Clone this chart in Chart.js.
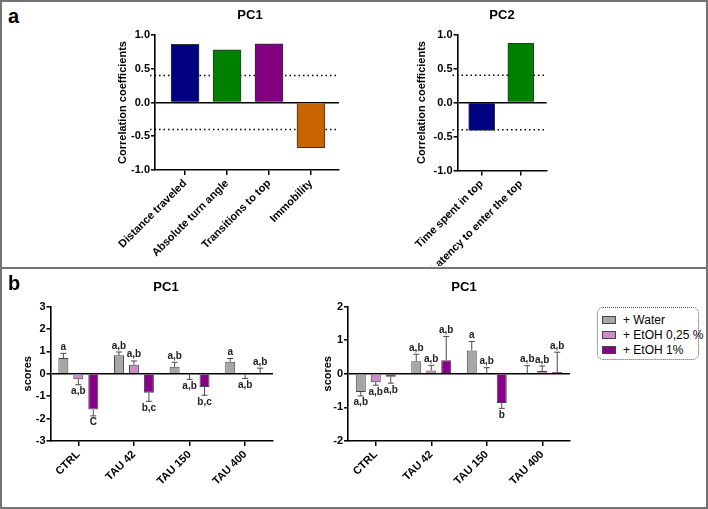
<!DOCTYPE html>
<html><head><meta charset="utf-8">
<script src="https://cdn.jsdelivr.net/npm/chart.js@4.4.1/dist/chart.umd.min.js"></script>
<style>
html,body{margin:0;padding:0;background:#fff;}
#fig{position:relative;width:708px;height:509px;overflow:hidden;font-family:"Liberation Sans",Arial,sans-serif;color:#000;}
.cbox{position:absolute;}
.frame{position:absolute;left:0;top:0;width:708px;height:509px;box-sizing:border-box;border:2px solid #737373;pointer-events:none;}
.sep{position:absolute;left:0;top:267px;width:708px;height:2px;background:#737373;}
.letter{position:absolute;font-weight:bold;font-size:20px;line-height:20px;}
.ttl{position:absolute;font-weight:bold;font-size:13px;line-height:13px;width:80px;text-align:center;}
#legend{position:absolute;left:597px;top:307px;width:102px;height:53px;box-sizing:border-box;border:1px dotted #555;border-radius:6px;}
.lrow{position:absolute;left:4px;height:14px;font-size:12px;line-height:14px;white-space:nowrap;}
.sw{position:absolute;left:0;top:3px;width:14px;height:8px;box-sizing:border-box;border:1px solid #444;}
.lt{position:absolute;left:21px;top:0;}
</style></head>
<body>
<div id="fig">
  <div class="cbox" style="left:100px;top:0;width:250px;height:266px;"><canvas id="a1"></canvas></div>
  <div class="cbox" style="left:400px;top:0;width:160px;height:266px;"><canvas id="a2"></canvas></div>
  <div class="cbox" style="left:5px;top:272px;width:278px;height:234px;"><canvas id="b1"></canvas></div>
  <div class="cbox" style="left:300px;top:272px;width:280px;height:234px;"><canvas id="b2"></canvas></div>
  <div class="letter" style="left:8px;top:6px;">a</div>
  <div class="letter" style="left:8px;top:273px;">b</div>
  <div class="ttl" style="left:210px;top:7.5px;">PC1</div>
  <div class="ttl" style="left:462px;top:7.5px;">PC2</div>
  <div class="ttl" style="left:126px;top:279.5px;">PC1</div>
  <div class="ttl" style="left:424px;top:279.5px;">PC1</div>
  <div id="legend"></div>
  <div class="sep"></div>
  <div class="frame"></div>
</div>
<script>
// ---------- DATA ----------
const pc1LoadCategories = ['Distance traveled', 'Absolute turn angle', 'Transitions to top', 'Immobility'];
const pc1LoadValues = [0.86, 0.78, 0.87, -0.67];
const pc1LoadColors = ['#000080', '#008000', '#800080', '#c86400'];
const pc2LoadCategories = ['Time spent in top', 'Latency to enter the top'];
const pc2LoadValues = [-0.41, 0.87];
const pc2LoadColors = ['#000080', '#008000'];
const loadingThreshold = 0.4;
const loadTicks = [-1.0, -0.5, 0.0, 0.5, 1.0];

const groups = ['CTRL', 'TAU 42', 'TAU 150', 'TAU 400'];
const seriesNames = ['+ Water', '+ EtOH 0,25 %', '+ EtOH 1%'];
const seriesColors = ['#a6a6a6', '#cc8cc6', '#880088'];

// left panel b (PC1 scores)
const leftWater = [0.70, 0.82, 0.31, 0.54];
const leftWaterSem = [0.21, 0.15, 0.20, 0.14];
const leftWaterLetters = ['a', 'a,b', 'a,b', 'a'];
const leftEtoh025 = [-0.24, 0.40, -0.02, -0.02];
const leftEtoh025Sem = [0.25, 0.17, 0.23, 0.19];
const leftEtoh025Letters = ['a,b', 'a,b', 'a,b', 'a,b'];
const leftEtoh1 = [-1.60, -0.85, -0.59, 0.02];
const leftEtoh1Sem = [0.28, 0.38, 0.37, 0.23];
const leftEtoh1Letters = ['C', 'b,c', 'b,c', 'a,b'];
const leftTicks = [-3, -2, -1, 0, 1, 2, 3];

// right panel b (PC1 scores)
const rightWater = [-0.54, 0.37, 0.69, 0.02];
const rightWaterSem = [0.12, 0.21, 0.27, 0.22];
const rightWaterLetters = ['a,b', 'a,b', 'a', 'a,b'];
const rightEtoh025 = [-0.25, 0.10, 0.02, 0.08];
const rightEtoh025Sem = [0.09, 0.15, 0.16, 0.15];
const rightEtoh025Letters = ['a,b', 'a,b', 'a,b', 'a,b'];
const rightEtoh1 = [-0.09, 0.40, -0.87, 0.05];
const rightEtoh1Sem = [0.19, 0.71, 0.16, 0.59];
const rightEtoh1Letters = ['a,b', 'a,b', 'b', 'a,b'];
const rightTicks = [-2, -1, 0, 1, 2];

// ---------- SETUP ----------
Chart.defaults.font.family = '"Liberation Sans", Arial, sans-serif';
Chart.defaults.font.size = 11;
Chart.defaults.font.weight = 'bold';
Chart.defaults.color = '#000';
Chart.defaults.animation = false;
Chart.defaults.responsive = true;
Chart.defaults.maintainAspectRatio = false;
Chart.defaults.events = [];
Chart.defaults.plugins.legend.display = false;
Chart.defaults.plugins.tooltip.enabled = false;

const thresholdPlugin = {
  id: 'thresholds',
  beforeDatasetsDraw(chart, args, opts) {
    const {ctx, chartArea, scales: {y}} = chart;
    ctx.save();
    ctx.setLineDash([1.5, 3]);
    ctx.lineWidth = 1.5;
    ctx.strokeStyle = '#000';
    [opts.value, -opts.value].forEach(v => {
      const py = y.getPixelForValue(v);
      ctx.beginPath();
      ctx.moveTo(chartArea.left - 5, py);
      ctx.lineTo(chartArea.right, py);
      ctx.stroke();
    });
    ctx.restore();
  }
};

const errorPlugin = {
  id: 'errorLetters',
  afterDatasetsDraw(chart) {
    const {ctx, scales: {y}} = chart;
    ctx.save();
    chart.data.datasets.forEach((ds, di) => {
      const meta = chart.getDatasetMeta(di);
      meta.data.forEach((bar, i) => {
        const m = ds.data[i], s = ds.sem[i];
        const dir = m >= 0 ? 1 : -1;
        const y0 = y.getPixelForValue(m);
        const y1 = y.getPixelForValue(m + dir * s);
        ctx.strokeStyle = '#4a4a4a';
        ctx.lineWidth = 1;
        ctx.beginPath();
        ctx.moveTo(bar.x, y0);
        ctx.lineTo(bar.x, y1);
        ctx.moveTo(bar.x - 3, y1);
        ctx.lineTo(bar.x + 3, y1);
        ctx.stroke();
        ctx.fillStyle = '#222';
        ctx.font = 'bold 10px "Liberation Sans", Arial, sans-serif';
        ctx.textAlign = 'center';
        ctx.textBaseline = 'alphabetic';
        ctx.fillText(ds.letters[i], bar.x, dir > 0 ? y1 - 3.5 : y1 + 9.5);
      });
    });
    ctx.restore();
  }
};

function yAxis(ticks, step, title, width, digits) {
  return {
    min: ticks[0], max: ticks[ticks.length - 1],
    ticks: {stepSize: step, padding: 1, color: '#000', font: {size: 11, weight: 'bold'},
            callback: v => Number(v).toFixed(digits)},
    grid: {drawOnChartArea: true,
           color: c => (c.tick && Math.abs(c.tick.value) < 1e-9) ? '#000' : 'rgba(0,0,0,0)',
           lineWidth: 1.6, tickColor: '#000', tickWidth: 1.5, tickLength: 4},
    border: {display: true, color: '#000', width: 1.6},
    title: {display: true, text: title, color: '#000', font: {size: 11, weight: 'bold'}, padding: {top: 0, bottom: 0}},
    afterFit: s => { s.width = width; }
  };
}

function xLinear(min, max, cats, height) {
  return {
    type: 'linear', min, max, offset: false,
    ticks: {stepSize: 1, autoSkip: false, includeBounds: false, maxRotation: 45, minRotation: 45, padding: 2,
            color: '#000', font: {size: 11, weight: 'bold'},
            callback: v => Number.isInteger(v) ? cats[v] : ''},
    grid: {drawOnChartArea: false, offset: false, color: '#000', lineWidth: 1.5, tickLength: 5},
    border: {display: true, color: '#000', width: 1.6},
    afterFit: s => { s.height = height; }
  };
}

function xCat(height) {
  return {
    type: 'category', offset: true,
    ticks: {autoSkip: false, maxRotation: 45, minRotation: 45, padding: 2, color: '#000', font: {size: 11, weight: 'bold'}},
    grid: {drawOnChartArea: false, offset: false, color: '#000', lineWidth: 1.5, tickLength: 5},
    border: {display: true, color: '#000', width: 1.6},
    afterFit: s => { s.height = height; }
  };
}

function loadingChart(id, cats, vals, colors, thickness, xmin, xmax, pad, yW, xH) {
  return new Chart(document.getElementById(id), {
    type: 'bar',
    data: {datasets: [{
      data: cats.map((c, i) => ({x: i, y: vals[i]})),
      backgroundColor: colors, borderColor: '#333', borderWidth: 1, barThickness: thickness
    }]},
    options: {
      layout: {padding: pad},
      scales: {x: xLinear(xmin, xmax, cats, xH), y: yAxis(loadTicks, 0.5, 'Correlation coefficients', yW, 1)},
      plugins: {thresholds: {value: loadingThreshold}}
    },
    plugins: [thresholdPlugin]
  });
}

function scoreChart(id, series, ticks, catPct, pad, yW, xH) {
  return new Chart(document.getElementById(id), {
    type: 'bar',
    data: {
      labels: groups,
      datasets: series.map((s, k) => ({
        label: seriesNames[k], data: s[0], sem: s[1], letters: s[2],
        backgroundColor: seriesColors[k], borderColor: '#444', borderWidth: 1,
        categoryPercentage: catPct, barPercentage: 0.667
      }))
    },
    options: {
      layout: {padding: pad},
      scales: {x: xCat(xH), y: yAxis(ticks, 1, 'scores', yW, 0)}
    },
    plugins: [errorPlugin]
  });
}

loadingChart('a1', pc1LoadCategories, pc1LoadValues, pc1LoadColors, 28, -0.716, 3.668,
  {left: 16.4, top: 35, right: 11, bottom: 0}, 38.6, 96);
loadingChart('a2', pc2LoadCategories, pc2LoadValues, pc2LoadColors, 26, -0.617, 1.66,
  {left: 15.1, top: 34.5, right: 13.3, bottom: 0}, 41.9, 95.5);

scoreChart('b1', [
  [leftWater, leftWaterSem, leftWaterLetters],
  [leftEtoh025, leftEtoh025Sem, leftEtoh025Letters],
  [leftEtoh1, leftEtoh1Sem, leftEtoh1Letters]
], leftTicks, 0.807, {left: 16.7, top: 34.5, right: 10, bottom: 0}, 28.8, 65);

scoreChart('b2', [
  [rightWater, rightWaterSem, rightWaterLetters],
  [rightEtoh025, rightEtoh025Sem, rightEtoh025Letters],
  [rightEtoh1, rightEtoh1Sem, rightEtoh1Letters]
], rightTicks, 0.81, {left: 21.4, top: 34.5, right: 10, bottom: 0}, 26.6, 65);

// legend built from series arrays
const legend = document.getElementById('legend');
seriesNames.forEach((name, k) => {
  const row = document.createElement('div');
  row.className = 'lrow';
  row.style.top = (5 + k * 15) + 'px';
  const sw = document.createElement('div');
  sw.className = 'sw';
  sw.style.background = seriesColors[k];
  const t = document.createElement('div');
  t.className = 'lt';
  t.textContent = name;
  row.appendChild(sw); row.appendChild(t);
  legend.appendChild(row);
});
</script>
</body></html>
